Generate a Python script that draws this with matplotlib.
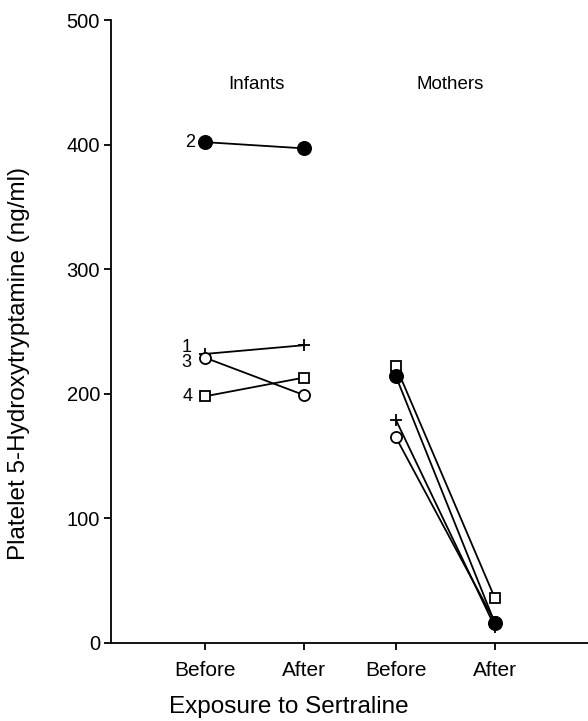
import matplotlib
matplotlib.use("Agg")
import matplotlib.pyplot as plt

plt.rcParams['font.family'] = ['Liberation Sans', 'DejaVu Sans']

tick_positions = [1, 2, 2.93, 3.93]
tick_labels = ["Before", "After", "Before", "After"]

# Infants: before, after
infant_plus = [232, 239]     # subject 1
infant_filled = [402, 397]   # subject 2
infant_open = [229, 199]     # subject 3
infant_square = [198, 213]   # subject 4

# Mothers: before, after
mother_plus = [179, 13]
mother_filled = [214, 16]
mother_open = [165, 17]
mother_square = [222, 36]

fig = plt.figure(figsize=(5.88, 7.21), dpi=100)
ax = fig.add_axes([0.1888, 0.1082, 0.811, 0.864])

lw = 1.3
def draw(xs, ys, marker, fc, ms):
    ax.plot(xs, ys, color='black', lw=lw, zorder=2)
    ax.plot(xs, ys, linestyle='none', marker=marker, markerfacecolor=fc,
            markeredgecolor='black', markersize=ms, markeredgewidth=1.3, zorder=3)

ix = tick_positions[0:2]
mx = tick_positions[2:4]
draw(ix, infant_plus, '+', 'black', 9)
draw(ix, infant_open, 'o', 'white', 8)
draw(ix, infant_square, 's', 'white', 7)
draw(ix, infant_filled, 'o', 'black', 9.5)

draw(mx, mother_plus, '+', 'black', 9)
draw(mx, mother_open, 'o', 'white', 8)
draw(mx, mother_square, 's', 'white', 7)
draw(mx, mother_filled, 'o', 'black', 9.5)

fs = 13
ax.text(0.90, infant_filled[0], "2", ha='right', va='center', fontsize=fs)
ax.text(0.86, 237.5, "1", ha='right', va='center', fontsize=fs)
ax.text(0.86, 225, "3", ha='right', va='center', fontsize=fs)
ax.text(0.87, infant_square[0], "4", ha='right', va='center', fontsize=fs)

ax.text(1.515, 448, "Infants", ha='center', va='center', fontsize=13.5)
ax.text(3.48, 448, "Mothers", ha='center', va='center', fontsize=13.5)

ax.set_xlim(0.05, 4.87)
ax.set_ylim(0, 500)
ax.set_yticks([0, 100, 200, 300, 400, 500])
ax.set_xticks(tick_positions)
ax.set_xticklabels(tick_labels)
ax.tick_params(direction='out', length=5, width=1.3, pad=3)
ax.tick_params(axis='y', labelsize=14.5)
ax.tick_params(axis='x', labelsize=15, pad=8)
for s in ['top', 'right']:
    ax.spines[s].set_visible(False)
for s in ['left', 'bottom']:
    ax.spines[s].set_linewidth(1.3)

ax.set_ylabel("Platelet 5-Hydroxytryptamine (ng/ml)", fontsize=17.5)
ax.yaxis.set_label_coords(-0.17, 0.448)
ax.set_xlabel("Exposure to Sertraline", fontsize=17.5)
ax.xaxis.set_label_coords(0.373, -0.085)

fig.savefig("out.png", dpi=100)
